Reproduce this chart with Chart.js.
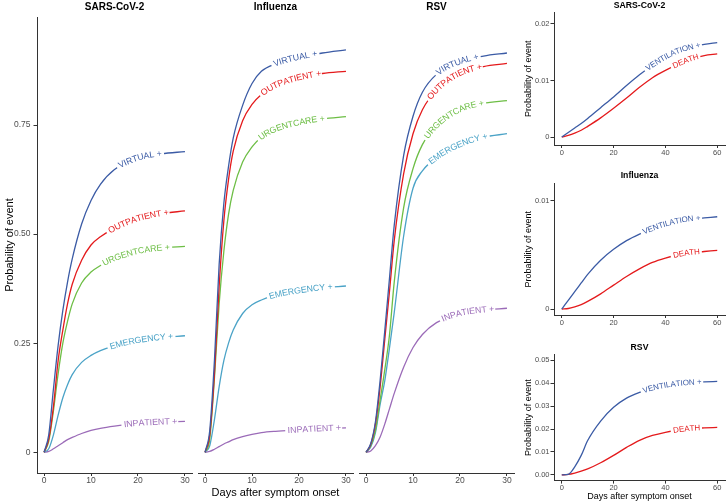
<!DOCTYPE html>
<html>
<head>
<meta charset="utf-8">
<script src="https://cdn.jsdelivr.net/npm/chart.js@4.4.0/dist/chart.umd.min.js"></script>
<style>
body { margin: 0; background: #fff; width: 727px; height: 503px; position: relative; overflow: hidden; }
canvas { position: absolute; }
</style>
</head>
<body>
<canvas id="sars" width="195" height="503" style="left:0;top:0"></canvas>
<canvas id="flu" width="161" height="503" style="left:195px;top:0"></canvas>
<canvas id="rsv" width="161" height="503" style="left:356px;top:0"></canvas>
<canvas id="sarsSev" width="212" height="160" style="left:515px;top:0"></canvas>
<canvas id="fluSev" width="212" height="160" style="left:515px;top:170px"></canvas>
<canvas id="rsvSev" width="212" height="162" style="left:515px;top:341px"></canvas>
<script>
// --- data: care settings, days 0-30 ---
const days = [0, 1, 2, 3, 4, 5, 6, 8, 10, 12, 15, 20, 25, 30];
const careLabels = ['VIRTUAL +', 'OUTPATIENT +', 'URGENTCARE +', 'EMERGENCY +', 'INPATIENT +'];

const sarsVirtual    = [0, 0.04, 0.145, 0.245, 0.325, 0.39, 0.443, 0.523, 0.577, 0.614, 0.648, 0.674, 0.684, 0.689];
const sarsOutpatient = [0, 0.03, 0.105, 0.21, 0.28, 0.34, 0.385, 0.44, 0.475, 0.494, 0.513, 0.535, 0.547, 0.553];
const sarsUrgent     = [0, 0.025, 0.095, 0.18, 0.25, 0.30, 0.34, 0.388, 0.413, 0.428, 0.444, 0.46, 0.468, 0.472];
const sarsEmergency  = [0, 0.008, 0.04, 0.085, 0.125, 0.155, 0.178, 0.206, 0.222, 0.233, 0.244, 0.256, 0.263, 0.267];
const sarsInpatient  = [0, 0.002, 0.008, 0.015, 0.022, 0.029, 0.034, 0.043, 0.05, 0.055, 0.06, 0.066, 0.069, 0.071];

const fluVirtual    = [0, 0.05, 0.21, 0.43, 0.57, 0.655, 0.72, 0.795, 0.845, 0.873, 0.89, 0.905, 0.915, 0.922];
const fluOutpatient = [0, 0.04, 0.18, 0.38, 0.53, 0.625, 0.69, 0.76, 0.797, 0.82, 0.84, 0.858, 0.868, 0.873];
const fluUrgent     = [0, 0.03, 0.17, 0.34, 0.46, 0.545, 0.60, 0.665, 0.70, 0.722, 0.74, 0.755, 0.764, 0.769];
const fluEmergency  = [0, 0.015, 0.075, 0.15, 0.21, 0.25, 0.28, 0.318, 0.338, 0.349, 0.36, 0.37, 0.377, 0.381];
const fluInpatient  = [0, 0.002, 0.007, 0.013, 0.019, 0.024, 0.029, 0.036, 0.041, 0.045, 0.048, 0.051, 0.054, 0.056];

const rsvVirtual    = [0, 0.02, 0.07, 0.165, 0.28, 0.40, 0.52, 0.68, 0.77, 0.825, 0.866, 0.895, 0.908, 0.915];
const rsvOutpatient = [0, 0.018, 0.065, 0.15, 0.26, 0.37, 0.485, 0.638, 0.73, 0.785, 0.83, 0.868, 0.884, 0.891];
const rsvUrgent     = [0, 0.015, 0.05, 0.12, 0.19, 0.27, 0.39, 0.56, 0.65, 0.705, 0.748, 0.785, 0.800, 0.806];
const rsvEmergency  = [0, 0.012, 0.045, 0.11, 0.165, 0.24, 0.32, 0.495, 0.605, 0.645, 0.675, 0.705, 0.722, 0.73];
const rsvInpatient  = [0, 0.003, 0.015, 0.035, 0.065, 0.10, 0.135, 0.195, 0.24, 0.27, 0.297, 0.318, 0.326, 0.33];

// --- data: severe outcomes, days 0-60 ---
const sevDays = [0, 2.5, 5, 7.5, 10, 15, 20, 25, 30, 35, 40, 45, 50, 55, 60];
const sevLabels = ['VENTILATION +', 'DEATH'];

const sarsVent  = [0, 0.0008, 0.0016, 0.0024, 0.0033, 0.0052, 0.0071, 0.0091, 0.011, 0.0127, 0.0141, 0.0152, 0.0159, 0.0164, 0.0167];
const sarsDeath = [0, 0.0003, 0.0007, 0.0012, 0.0019, 0.0034, 0.0051, 0.0069, 0.0088, 0.0105, 0.0118, 0.0129, 0.0138, 0.0144, 0.0147];
const fluVent   = [0, 0.0008, 0.0016, 0.0024, 0.0032, 0.0045, 0.0055, 0.0063, 0.0069, 0.0074, 0.0078, 0.0081, 0.0083, 0.0084, 0.0085];
const fluDeath  = [0, 0.00005, 0.0002, 0.0004, 0.0007, 0.0014, 0.0022, 0.003, 0.0037, 0.0043, 0.0047, 0.005, 0.0052, 0.0053, 0.0054];
const rsvVent   = [0, 0.0002, 0.0035, 0.0085, 0.015, 0.0235, 0.0295, 0.0335, 0.036, 0.0378, 0.039, 0.0398, 0.0403, 0.0406, 0.0408];
const rsvDeath  = [0, 0.0002, 0.0008, 0.0016, 0.0026, 0.0053, 0.0085, 0.012, 0.0151, 0.0172, 0.0186, 0.0196, 0.0202, 0.0205, 0.0207];

// --- ticks ---
const careXTicks = [0, 10, 20, 30];
const careYTicks = [0, 0.25, 0.5, 0.75];
const careYLabels = ['0', '0.25', '0.50', '0.75'];
const sevXTicks = [0, 20, 40, 60];
const sarsSevYTicks = [0, 0.01, 0.02];
const sarsSevYLabels = ['0', '0.01', '0.02'];
const fluSevYTicks = [0, 0.01];
const fluSevYLabels = ['0', '0.01'];
const rsvSevYTicks = [0, 0.01, 0.02, 0.03, 0.04, 0.05];
const rsvSevYLabels = ['0.00', '0.01', '0.02', '0.03', '0.04', '0.05'];

// where each curve label starts (day)
const sarsLabelAt = [15.9, 13.7, 12.6, 14, 17];
const fluLabelAt = [14.6, 12.1, 11.6, 13.6, 17.5];
const rsvLabelAt = [15.2, 13.4, 12.8, 13.5, 16.2];
const sevLabelAt = [[32.7, 42.9], [31.4, 42.9], [31.4, 42.9]];

const careColors = ['#3b5ba5', '#e41a1c', '#6dbe45', '#4ba3c7', '#9b6bb8'];
const sevColors = ['#3b5ba5', '#e41a1c'];

const FONT = "'Liberation Sans', Arial, Helvetica, sans-serif";
Chart.defaults.font.family = FONT;

// text drawn along each curve, with the line broken under it
const curveLabels = {
    id: 'curveLabels',
    afterDatasetsDraw(chart, args, opts) {
        const ctx = chart.ctx;
        const xs = chart.scales.x;
        chart.data.datasets.forEach((ds, i) => {
            if (!ds.pathLabel) return;
            const pts = chart.getDatasetMeta(i).data;
            const path = [];
            for (let k = 0; k < pts.length - 1; k++) {
                const a = pts[k], b = pts[k + 1];
                const c1x = a.cp2x ?? a.x, c1y = a.cp2y ?? a.y;
                const c2x = b.cp1x ?? b.x, c2y = b.cp1y ?? b.y;
                for (let t = 0; t < 1; t += 0.04) {
                    const u = 1 - t;
                    path.push({
                        x: u*u*u*a.x + 3*u*u*t*c1x + 3*u*t*t*c2x + t*t*t*b.x,
                        y: u*u*u*a.y + 3*u*u*t*c1y + 3*u*t*t*c2y + t*t*t*b.y
                    });
                }
            }
            path.push({ x: pts[pts.length - 1].x, y: pts[pts.length - 1].y });
            let len = 0;
            path[0].s = 0;
            for (let k = 1; k < path.length; k++) {
                len += Math.hypot(path[k].x - path[k-1].x, path[k].y - path[k-1].y);
                path[k].s = len;
            }
            const at = s => {
                let k = 1;
                while (k < path.length - 1 && path[k].s < s) k++;
                const p0 = path[k-1], p1 = path[k];
                const f = (s - p0.s) / ((p1.s - p0.s) || 1);
                return {
                    x: p0.x + (p1.x - p0.x) * f,
                    y: p0.y + (p1.y - p0.y) * f,
                    a: Math.atan2(p1.y - p0.y, p1.x - p0.x)
                };
            };
            const startPx = xs.getPixelForValue(ds.labelAt);
            let s0 = 0;
            for (const p of path) { if (p.x >= startPx) { s0 = p.s; break; } }

            ctx.save();
            ctx.font = opts.size + 'px ' + FONT;
            const w = ctx.measureText(ds.pathLabel).width;
            const gap = 2.5;
            ctx.strokeStyle = '#fff';
            ctx.lineWidth = 3.2;
            ctx.beginPath();
            for (let s = s0 - gap; s <= s0 + w + gap; s += 0.5) {
                const p = at(s);
                if (s === s0 - gap) ctx.moveTo(p.x, p.y); else ctx.lineTo(p.x, p.y);
            }
            ctx.stroke();

            ctx.fillStyle = ds.borderColor;
            ctx.textAlign = 'center';
            ctx.textBaseline = 'middle';
            let s = s0;
            for (const ch of ds.pathLabel) {
                const cw = ctx.measureText(ch).width;
                const p = at(s + cw / 2);
                ctx.save();
                ctx.translate(p.x, p.y);
                ctx.rotate(p.a);
                ctx.fillText(ch, 0, 0);
                ctx.restore();
                s += cw;
            }
            ctx.restore();
        });
    }
};

function makeDatasets(x, series, labels, colors, labelAt) {
    return series.map((vals, i) => ({
        data: vals.map((v, k) => ({ x: x[k], y: v })),
        borderColor: colors[i],
        borderWidth: 1.3,
        pointRadius: 0,
        fill: false,
        cubicInterpolationMode: 'monotone',
        pathLabel: labels[i],
        labelAt: labelAt[i]
    }));
}

function panel(id, p) {
    const tickFont = { size: p.tickSize, family: FONT };
    const y = {
        type: 'linear', min: p.yMin, max: p.yMax, display: p.showY,
        afterBuildTicks: s => { s.ticks = p.yTicks.map(v => ({ value: v })); },
        afterFit: s => { s.width = p.showY ? p.yWidth : 0; },
        ticks: {
            callback: v => p.yLabels[p.yTicks.indexOf(v)],
            font: tickFont, color: '#4d4d4d', padding: p.yPad
        },
        grid: { display: true, drawOnChartArea: false, drawTicks: true, tickLength: 3.5, color: '#333', lineWidth: 1 },
        border: { display: true, color: '#333', width: 1 },
        title: {
            display: p.showY, text: 'Probability of event', color: '#000',
            font: { size: p.yTitleSize, family: FONT, lineHeight: 1.2 },
            padding: { top: p.yTitlePad, bottom: 0 }
        }
    };
    const x = {
        type: 'linear', min: p.xMin, max: p.xMax,
        afterBuildTicks: s => { s.ticks = p.xTicks.map(v => ({ value: v })); },
        afterFit: s => { s.height = p.xHeight; },
        ticks: {
            callback: v => String(v), autoSkip: false, maxRotation: 0,
            font: tickFont, color: '#4d4d4d', padding: 0
        },
        grid: { display: true, drawOnChartArea: false, drawTicks: true, tickLength: 3, color: '#333', lineWidth: 1 },
        border: { display: true, color: '#333', width: 1 },
        title: {
            display: !!p.xTitle, text: p.xTitle || '', color: '#000',
            font: { size: p.xTitleSize, family: FONT, lineHeight: 1.2 },
            padding: { top: 0, bottom: p.xTitlePad }
        }
    };
    return new Chart(document.getElementById(id), {
        type: 'line',
        data: { datasets: p.datasets },
        options: {
            responsive: false,
            animation: false,
            devicePixelRatio: 1,
            layout: { padding: { left: p.padL, right: p.padR, top: 0, bottom: 0 } },
            scales: { x: x, y: y },
            plugins: {
                legend: { display: false },
                tooltip: { enabled: false },
                title: {
                    display: true, text: p.title, fullSize: false, color: '#000',
                    font: { size: p.titleSize, weight: 'bold', family: FONT, lineHeight: 1.2 },
                    padding: p.titlePad
                },
                subtitle: p.bottomText ? {
                    display: true, text: p.bottomText, position: 'bottom', fullSize: false, color: '#000',
                    font: { size: 9, family: FONT, lineHeight: 1.2 },
                    padding: { top: 0, bottom: 0.6 }
                } : { display: false },
                curveLabels: { size: p.labelSize }
            }
        },
        plugins: [curveLabels]
    });
}

const careBase = {
    xMin: -1.5, xMax: 31.5, yMin: -0.0475, yMax: 0.9975,
    xTicks: careXTicks, yTicks: careYTicks, yLabels: careYLabels,
    xHeight: 30, yWidth: 37, yPad: 3, tickSize: 8.5,
    yTitleSize: 11, yTitlePad: 3.4, xTitleSize: 11, xTitlePad: 3.2,
    titleSize: 10, titlePad: { top: 1, bottom: 4 }, labelSize: 8.8
};

panel('sars', Object.assign({}, careBase, {
    title: 'SARS-CoV-2', showY: true, padL: 0, padR: 3,
    datasets: makeDatasets(days, [sarsVirtual, sarsOutpatient, sarsUrgent, sarsEmergency, sarsInpatient], careLabels, careColors, sarsLabelAt)
}));
panel('flu', Object.assign({}, careBase, {
    title: 'Influenza', showY: false, padL: 3, padR: 3, xTitle: 'Days after symptom onset',
    datasets: makeDatasets(days, [fluVirtual, fluOutpatient, fluUrgent, fluEmergency, fluInpatient], careLabels, careColors, fluLabelAt)
}));
panel('rsv', Object.assign({}, careBase, {
    title: 'RSV', showY: false, padL: 3, padR: 3,
    datasets: makeDatasets(days, [rsvVirtual, rsvOutpatient, rsvUrgent, rsvEmergency, rsvInpatient], careLabels, careColors, rsvLabelAt)
}));

const sevBase = {
    xMin: -3, xMax: 63, xTicks: sevXTicks, showY: true,
    yWidth: 39, yPad: 1, tickSize: 7.5, padL: 0, padR: 2,
    yTitleSize: 9, yTitlePad: 8.6, xTitleSize: 9, xTitlePad: 0,
    titleSize: 8.7, labelSize: 8, xHeight: 15
};

panel('sarsSev', Object.assign({}, sevBase, {
    title: 'SARS-CoV-2', yMin: -0.0014, yMax: 0.022, yTicks: sarsSevYTicks, yLabels: sarsSevYLabels,
    titlePad: { top: 0.5, bottom: 1.7 },
    datasets: makeDatasets(sevDays, [sarsVent, sarsDeath], sevLabels, sevColors, sevLabelAt[0])
}));
panel('fluSev', Object.assign({}, sevBase, {
    title: 'Influenza', yMin: -0.00055, yMax: 0.01155, yTicks: fluSevYTicks, yLabels: fluSevYLabels,
    titlePad: { top: 0.6, bottom: 2.6 },
    datasets: makeDatasets(sevDays, [fluVent, fluDeath], sevLabels, sevColors, sevLabelAt[1])
}));
panel('rsvSev', Object.assign({}, sevBase, {
    title: 'RSV', yMin: -0.0025, yMax: 0.0525, yTicks: rsvSevYTicks, yLabels: rsvSevYLabels,
    titlePad: { top: 0.9, bottom: 2.3 }, xHeight: 11, bottomText: 'Days after symptom onset',
    datasets: makeDatasets(sevDays, [rsvVent, rsvDeath], sevLabels, sevColors, sevLabelAt[2])
}));
</script>
</body>
</html>
